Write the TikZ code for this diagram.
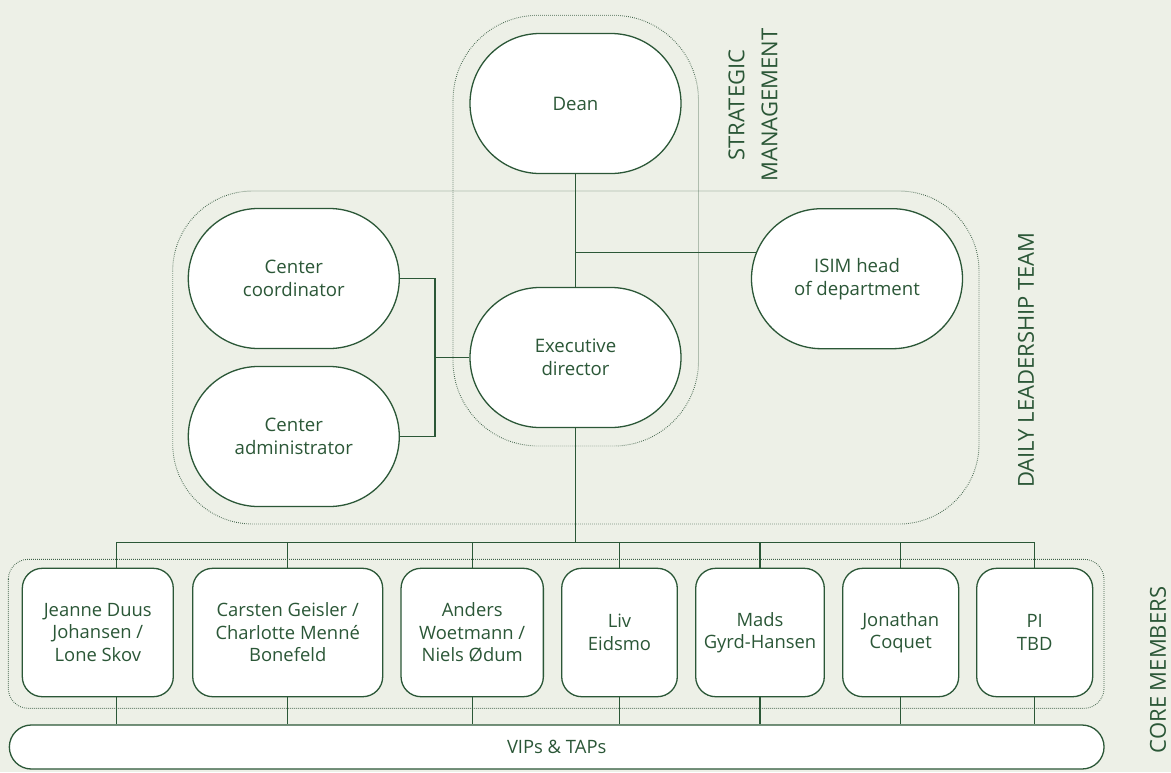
\documentclass[tikz,border=0pt]{standalone}
\usepackage{fontspec}
\setmainfont{Open Sans}
\usetikzlibrary{backgrounds}
\definecolor{bgc}{HTML}{EDF0E7}
\definecolor{dg}{HTML}{2B5737}
\definecolor{dotc}{HTML}{3E6148}
\begin{document}
\begin{tikzpicture}[x=1pt,y=-1pt,
 big/.style={draw=dg, line width=1.3pt, fill=white, rounded corners=70pt, minimum width=211pt, minimum height=140pt, inner sep=0pt, align=center, text=dg, font=\fontsize{18.6}{23}\selectfont},
 mem/.style={draw=dg, line width=1.3pt, fill=white, rounded corners=20pt, minimum height=128.4pt, inner sep=0pt, align=center, text=dg, font=\fontsize{18.4}{22.5}\selectfont},
 vipbox/.style={draw=dg, line width=1.3pt, fill=white, rounded corners=22pt, minimum height=44pt, minimum width=1094.7pt, inner sep=0pt, text=dg, font=\fontsize{18.4}{22.5}\selectfont},
 conn/.style={draw=dg, line width=1.3pt},
 grp/.style={draw=dotc, line width=0.9pt, dash pattern=on 0.7pt off 1.3pt},
 lab/.style={rotate=90, text=dg, align=center, font=\fontsize{22}{33}\selectfont}]
\useasboundingbox (0,0) rectangle (1171,772);

% main nodes
\node[big] (dean) at (575.5,103.5) {Dean};
\node[big] (cc) at (293.8,278.5) {Center\\coordinator};
\node[big] (ca) at (293.8,436.5) {Center\\administrator};
\node[big] (ex) at (575.5,357.5) {Executive\\director};
\node[big] (isim) at (857,278.7) {ISIM head\\of department};

% core members
\node[mem, minimum width=151pt] (m1) at (97.8,632.5) {Jeanne Duus\\Johansen /\\Lone Skov};
\node[mem, minimum width=190pt] (m2) at (287.7,632.5) {Carsten Geisler /\\Charlotte Menné\\Bonefeld};
\node[mem, minimum width=142.3pt] (m3) at (472.2,632.5) {Anders\\Woetmann /\\Niels Ødum};
\node[mem, minimum width=115.6pt] (m4) at (619.5,632.5) {Liv\\Eidsmo};
\node[mem, minimum width=128.6pt] (m5) at (760,632.5) {Mads\\Gyrd-Hansen};
\node[mem, minimum width=116pt] (m6) at (900.7,632.5) {Jonathan\\Coquet};
\node[mem, minimum width=116pt] (m7) at (1034.7,632.5) {PI\\TBD};

\node[vipbox] (vip) at (556.7,747) {VIPs \& TAPs};

% group labels
\node[lab] (sml) at (753,105) {STRATEGIC\\MANAGEMENT};
\node[lab] (dll) at (1026,360) {DAILY LEADERSHIP TEAM};
\node[lab] (cml) at (1158,670) {CORE MEMBERS};

\coordinate (j) at (575.5,252.3);
\coordinate (brx) at (435,357.5);
\coordinate (k1) at (116.3,542.7);
\coordinate (busR) at (1034.7,542.7);

\begin{scope}[on background layer]
\fill[bgc] (0,0) rectangle (1171,772);
% group boxes
\draw[grp, rounded corners=85pt] (453,15.3) rectangle (698.5,446);
\draw[grp, rounded corners=80pt] (172.7,191) rectangle (979,524);
\draw[grp, rounded corners=20pt] (8.3,559.3) rectangle (1104,708.3);
% connectors
\draw[conn] (dean.south) -- (ex.north);
\draw[conn] (j) -- (j -| isim.center);
\draw[conn] (cc.east) -- (brx |- cc.east) -- (brx |- ca.east) -- (ca.east);
\draw[conn] (brx) -- (ex.west);
\draw[conn] (ex.south) -- (ex.south |- k1);
\draw[conn] (k1) -- (busR);
\draw[conn] (k1) -- (k1 |- m1.north);
\foreach \m in {m2,m3,m4,m5,m6,m7}
  \draw[conn] (\m.north) -- (\m.north |- k1);
\draw[conn] (k1 |- m1.south) -- (k1 |- vip.north);
\foreach \m in {m2,m3,m4,m5,m6,m7}
  \draw[conn] (\m.south) -- (\m.south |- vip.north);
\end{scope}
\end{tikzpicture}
\end{document}
